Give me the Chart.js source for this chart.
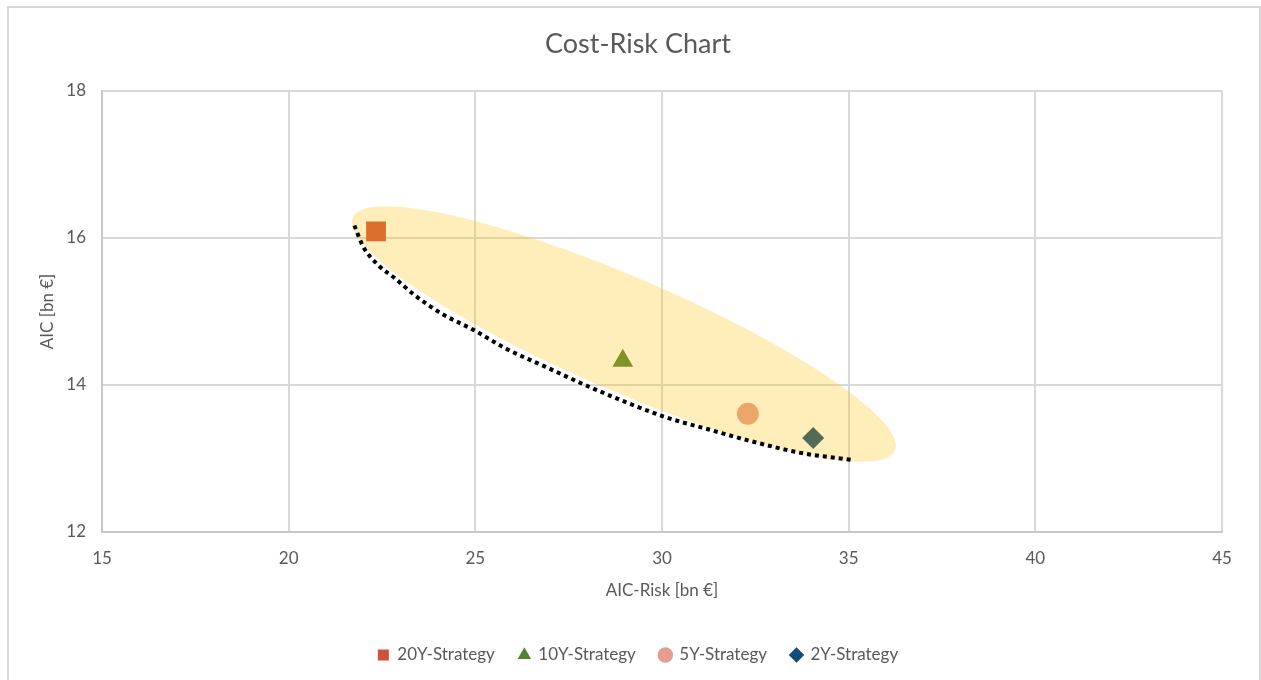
<!DOCTYPE html>
<html>
<head>
<meta charset="utf-8">
<script src="https://cdn.jsdelivr.net/npm/chart.js@4"></script>
<style>
  body { margin: 0; background: #fff; overflow: hidden; }
  #frame { position: absolute; left: 7px; top: 6px; width: 1250px; height: 700px; border: 2px solid #d9d9d9; }
  #chart { position: absolute; left: 0; top: 0; }
</style>
</head>
<body>
<div id="frame"></div>
<canvas id="chart" width="1261" height="680"></canvas>
<script>
// Strategies: AIC-Risk (x) and AIC (y), both in bn €
const strategyNames = ['20Y-Strategy', '10Y-Strategy', '5Y-Strategy', '2Y-Strategy'];
const strategyRisk = [22.34, 28.95, 32.3, 34.05];
const strategyCost = [16.09, 14.33, 13.61, 13.28];
const strategyColors = ['#d0523c', '#548235', '#e49e90', '#124c78'];
const strategyShapes = ['rect', 'triangle', 'circle', 'rectRot'];
const strategyRadius = [14, 12, 11, 11];

// Dotted efficient frontier
const frontierRisk = [21.76, 22.00, 22.40, 22.85, 23.38, 24.10, 24.95, 25.80, 26.87, 28.12, 30.05, 31.29, 32.28, 33.78, 35.12];
const frontierCost = [16.17, 15.88, 15.63, 15.45, 15.22, 14.97, 14.75, 14.50, 14.25, 13.96, 13.57, 13.39, 13.25, 13.07, 12.98];

// Highlight ellipse: ends of its long axis (data units)
const ellipseRisk = [21.72, 36.24];
const ellipseCost = [16.28, 13.11];
const ellipseHalfWidth = 57; // px

const textColor = '#595959';
const fontFamily = 'Lato, "Open Sans", sans-serif';

// Function to paint the yellow ellipse right before the frontier line
const ellipsePlugin = {
    id: 'ellipse',
    beforeDatasetDraw(chart, args) {
        if (args.index !== 0) return;
        const { ctx, chartArea, scales } = chart;
        const x1 = scales.x.getPixelForValue(ellipseRisk[0]);
        const x2 = scales.x.getPixelForValue(ellipseRisk[1]);
        const y1 = scales.y.getPixelForValue(ellipseCost[0]);
        const y2 = scales.y.getPixelForValue(ellipseCost[1]);
        const half = Math.hypot(x2 - x1, y2 - y1) / 2;
        ctx.save();
        ctx.beginPath();
        ctx.rect(chartArea.left, chartArea.top, chartArea.width, chartArea.height);
        ctx.clip();
        ctx.beginPath();
        ctx.ellipse((x1 + x2) / 2, (y1 + y2) / 2, half, ellipseHalfWidth, Math.atan2(y2 - y1, x2 - x1), 0, Math.PI * 2);
        ctx.fillStyle = 'rgba(255, 192, 0, 0.27)';
        ctx.fill();
        ctx.restore();
    }
};

const datasets = [{
    label: 'Frontier',
    data: frontierRisk.map((x, i) => ({ x: x, y: frontierCost[i] })),
    showLine: true,
    borderColor: '#000',
    borderWidth: 4,
    borderDash: [4, 4],
    borderCapStyle: 'butt',
    cubicInterpolationMode: 'monotone',
    pointRadius: 0,
    order: 0
}];

strategyNames.forEach((name, i) => {
    datasets.push({
        label: name,
        data: [{ x: strategyRisk[i], y: strategyCost[i] }],
        backgroundColor: strategyColors[i],
        pointBackgroundColor: strategyColors[i],
        borderWidth: 0,
        pointStyle: strategyShapes[i],
        pointRadius: strategyRadius[i],
        order: 1
    });
});

new Chart(document.getElementById('chart'), {
    type: 'scatter',
    data: { datasets: datasets },
    plugins: [ellipsePlugin],
    options: {
        responsive: false,
        animation: false,
        layout: { padding: { left: 15, top: 0, right: 0, bottom: 6.5 } },
        plugins: {
            tooltip: { enabled: false },
            title: {
                display: true,
                text: 'Cost-Risk Chart',
                color: textColor,
                font: { family: fontFamily, size: 27, weight: 'normal' },
                padding: { top: 28, bottom: 30.6 }
            },
            legend: {
                position: 'bottom',
                labels: {
                    usePointStyle: true,
                    boxWidth: 11,
                    boxHeight: 11,
                    padding: 24,
                    color: textColor,
                    font: { family: fontFamily, size: 17 },
                    filter: item => item.datasetIndex > 0
                }
            }
        },
        scales: {
            x: {
                min: 15,
                max: 45,
                ticks: { stepSize: 5, color: textColor, padding: 16, font: { family: fontFamily, size: 17 } },
                grid: { color: '#d9d9d9', lineWidth: 2, drawTicks: false },
                border: { color: '#c8c8c8', width: 2 },
                title: {
                    display: true,
                    text: 'AIC-Risk [bn €]',
                    color: textColor,
                    font: { family: fontFamily, size: 17 },
                    padding: { top: 0, bottom: 22 }
                },
                afterFit: s => { s.height = 90.5; }
            },
            y: {
                min: 12,
                max: 18,
                ticks: { stepSize: 2, color: textColor, padding: 16, font: { family: fontFamily, size: 17 } },
                grid: { color: '#d9d9d9', lineWidth: 2, drawTicks: false },
                border: { color: '#c8c8c8', width: 2 },
                title: {
                    display: true,
                    text: 'AIC [bn €]',
                    color: textColor,
                    font: { family: fontFamily, size: 17 },
                    padding: { top: 22, bottom: 0 }
                },
                afterFit: s => { s.width = 87; }
            },
            // empty right-hand box so the plot ends where the original does
            yRight: {
                position: 'right',
                min: 12,
                max: 18,
                ticks: { display: false },
                grid: { display: false },
                border: { display: false },
                afterFit: s => { s.width = 39; }
            }
        }
    }
});
</script>
</body>
</html>
